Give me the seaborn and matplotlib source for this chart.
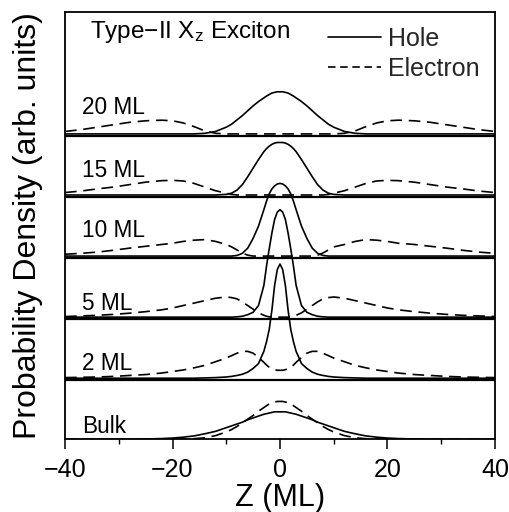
"""
Type-II X_z exciton: hole / electron probability density for several layer widths.
Stacked curves, one baseline per width, shared Z axis.
"""
import numpy as np
import pandas as pd
import matplotlib
matplotlib.use("Agg")
import matplotlib.pyplot as plt
import matplotlib.transforms as mtransforms
from matplotlib.lines import Line2D
import seaborn as sns

# --- data (Z in monolayers, density in arb. units) ---
z_ml = [-40, -37, -34, -31, -28, -25, -22, -20, -18, -16, -14, -12, -10, -9, -8, -7, -6, -5, -4, -3,
        -2.5, -2, -1.5, -1, -0.5, 0, 0.5, 1, 1.5, 2, 2.5, 3, 4, 5, 6, 7, 8, 9, 10, 12, 14, 16, 18,
        20, 22, 25, 28, 31, 34, 37, 40]

labels = ["Bulk", "2 ML", "5 ML", "10 ML", "15 ML", "20 ML"]

hole_bulk = [0, 0, 0, 0, 0, 0.005, 0.012, 0.02, 0.035, 0.055, 0.09, 0.13, 0.19, 0.22, 0.25, 0.28, 0.32,
             0.35, 0.38, 0.41, 0.42, 0.43, 0.44, 0.45, 0.45, 0.45, 0.45, 0.45, 0.44, 0.43, 0.42, 0.41,
             0.38, 0.35, 0.32, 0.28, 0.25, 0.22, 0.19, 0.13, 0.09, 0.055, 0.035, 0.02, 0.012, 0.005,
             0, 0, 0, 0, 0]
elec_bulk = [0, 0, 0, 0, 0, 0, 0, 0, 0.003, 0.01, 0.025, 0.06, 0.12, 0.16, 0.21, 0.27, 0.33, 0.39,
             0.46, 0.52, 0.55, 0.58, 0.60, 0.61, 0.62, 0.62, 0.62, 0.61, 0.60, 0.58, 0.55, 0.52, 0.46,
             0.39, 0.33, 0.27, 0.21, 0.16, 0.12, 0.06, 0.025, 0.01, 0.003, 0, 0, 0, 0, 0, 0, 0, 0]

hole_2 = [0, 0, 0, 0, 0, 0, 0, 0, 0, 0, 0.005, 0.01, 0.02, 0.03, 0.045, 0.065, 0.10, 0.16, 0.24, 0.44,
          0.60, 0.80, 1.12, 1.52, 1.78, 1.87, 1.78, 1.52, 1.12, 0.80, 0.60, 0.44, 0.24, 0.16, 0.10,
          0.065, 0.045, 0.03, 0.02, 0.01, 0.005, 0, 0, 0, 0, 0, 0, 0, 0, 0, 0]
elec_2 = [0.01, 0.015, 0.02, 0.03, 0.045, 0.06, 0.085, 0.11, 0.135, 0.17, 0.21, 0.27, 0.33, 0.37, 0.41,
          0.44, 0.44, 0.41, 0.34, 0.26, 0.215, 0.18, 0.155, 0.14, 0.13, 0.13, 0.13, 0.14, 0.155, 0.18,
          0.215, 0.26, 0.34, 0.41, 0.44, 0.44, 0.41, 0.37, 0.33, 0.27, 0.21, 0.17, 0.135, 0.11, 0.085,
          0.06, 0.045, 0.03, 0.02, 0.015, 0.01]

hole_5 = [0, 0, 0, 0, 0, 0, 0, 0, 0, 0, 0, 0, 0, 0, 0.005, 0.015, 0.04, 0.08, 0.19, 0.52, 0.84, 1.12,
          1.38, 1.60, 1.72, 1.76, 1.72, 1.60, 1.38, 1.12, 0.84, 0.52, 0.19, 0.08, 0.04, 0.015, 0.005,
          0, 0, 0, 0, 0, 0, 0, 0, 0, 0, 0, 0, 0, 0]
elec_5 = [0.01, 0.02, 0.03, 0.045, 0.065, 0.09, 0.12, 0.15, 0.19, 0.23, 0.27, 0.31, 0.33, 0.32, 0.30,
          0.25, 0.19, 0.13, 0.07, 0.03, 0.015, 0.005, 0, 0, 0, 0, 0, 0, 0, 0.005, 0.015, 0.03, 0.07,
          0.13, 0.19, 0.25, 0.30, 0.32, 0.33, 0.31, 0.27, 0.23, 0.19, 0.15, 0.12, 0.09, 0.065, 0.045,
          0.03, 0.02, 0.01]

hole_10 = [0, 0, 0, 0, 0, 0, 0, 0, 0, 0, 0, 0, 0, 0, 0.01, 0.045, 0.13, 0.29, 0.49, 0.76, 0.90, 1.02,
           1.10, 1.15, 1.18, 1.19, 1.18, 1.15, 1.10, 1.02, 0.90, 0.76, 0.49, 0.29, 0.13, 0.045, 0.01,
           0, 0, 0, 0, 0, 0, 0, 0, 0, 0, 0, 0, 0, 0]
elec_10 = [0.03, 0.045, 0.065, 0.095, 0.13, 0.16, 0.19, 0.21, 0.24, 0.26, 0.27, 0.24, 0.19, 0.15, 0.10,
           0.05, 0.015, 0, 0, 0, 0, 0, 0, 0, 0, 0, 0, 0, 0, 0, 0, 0, 0, 0, 0, 0.015, 0.05, 0.10, 0.15,
           0.19, 0.24, 0.27, 0.26, 0.24, 0.21, 0.19, 0.16, 0.13, 0.095, 0.065, 0.045, 0.03]

hole_15 = [0, 0, 0, 0, 0, 0, 0, 0, 0, 0, 0, 0, 0.01, 0.03, 0.08, 0.17, 0.30, 0.44, 0.58, 0.71, 0.76,
           0.80, 0.83, 0.85, 0.86, 0.86, 0.86, 0.85, 0.83, 0.80, 0.76, 0.71, 0.58, 0.44, 0.30, 0.17,
           0.08, 0.03, 0.01, 0, 0, 0, 0, 0, 0, 0, 0, 0, 0, 0, 0]
elec_15 = [0.04, 0.065, 0.10, 0.13, 0.17, 0.21, 0.235, 0.24, 0.23, 0.19, 0.13, 0.07, 0.03, 0.01, 0, 0,
           0, 0, 0, 0, 0, 0, 0, 0, 0, 0, 0, 0, 0, 0, 0, 0, 0, 0, 0, 0, 0, 0.01, 0.03, 0.07, 0.13,
           0.19, 0.23, 0.24, 0.235, 0.21, 0.17, 0.13, 0.10, 0.065, 0.04]

hole_20 = [0, 0, 0, 0, 0, 0, 0, 0, 0, 0, 0.01, 0.04, 0.11, 0.16, 0.23, 0.30, 0.38, 0.46, 0.53, 0.59,
           0.62, 0.645, 0.67, 0.68, 0.69, 0.69, 0.69, 0.68, 0.67, 0.645, 0.62, 0.59, 0.53, 0.46, 0.38,
           0.30, 0.23, 0.16, 0.11, 0.04, 0.01, 0, 0, 0, 0, 0, 0, 0, 0, 0, 0]
elec_20 = [0.04, 0.07, 0.11, 0.15, 0.19, 0.215, 0.225, 0.215, 0.18, 0.12, 0.05, 0.01, 0, 0, 0, 0, 0,
           0, 0, 0, 0, 0, 0, 0, 0, 0, 0, 0, 0, 0, 0, 0, 0, 0, 0, 0, 0, 0, 0, 0.01, 0.05, 0.12, 0.18,
           0.215, 0.225, 0.215, 0.19, 0.15, 0.11, 0.07, 0.04]

holes = [hole_bulk, hole_2, hole_5, hole_10, hole_15, hole_20]
electrons = [elec_bulk, elec_2, elec_5, elec_10, elec_15, elec_20]

# --- layout ---
label_lift = [0.11, 0.13, 0.11, 0.31, 0.29, 0.33]   # label baseline above each trace
base_shift = 0.03                                   # separator drawn just under the zero line

sns.set_theme(style="ticks")
plt.rcParams["font.family"] = ["Liberation Sans", "DejaVu Sans"]
plt.rcParams["mathtext.default"] = "regular"
plt.rcParams["xtick.direction"] = "out"

rows = []
for k, name in enumerate(labels):
    for carrier, dens in (("Hole", holes[k]), ("Electron", electrons[k])):
        for z, d in zip(z_ml, dens):
            rows.append({"Z": z, "dens": d + k, "carrier": carrier, "trace": f"{name}-{carrier}"})
df = pd.DataFrame(rows)

fig = plt.figure(figsize=(5.10, 5.12), dpi=100)
ax = fig.add_axes([0.1275, 0.142, 0.843, 0.835])

sns.lineplot(data=df, x="Z", y="dens", style="carrier", units="trace", estimator=None,
             sort=False, color="black", linewidth=1.2,
             dashes={"Hole": "", "Electron": (7, 4)}, legend=False, ax=ax)

# separator under each stacked trace
for k in range(1, len(labels)):
    ax.axhline(k - base_shift, color="black", linewidth=1.6, zorder=1)

ax.set_xlim(-40, 40)
ax.set_ylim(0, 7)
ax.set_xticks([-40, -20, 0, 20, 40])
ax.set_xticks([-30, -10, 10, 30], minor=True)
ax.xaxis.set_tick_params(which="major", direction="out", length=7.5, width=1.1,
                         pad=6, labelsize=18, color="black", labelcolor="black")
ax.xaxis.set_tick_params(which="minor", direction="out", length=3.5, width=1.0, color="black")
ax.tick_params(axis="y", which="both", left=False, right=False, labelleft=False)
for sp in ax.spines.values():
    sp.set_visible(True)
    sp.set_color("black")
    sp.set_linewidth(1.3)

ax.set_xlabel("Z (ML)", fontsize=22, labelpad=1, color="black")
ax.set_ylabel("Probability Density (arb. units)", fontsize=23, labelpad=16, color="black")

blend = mtransforms.blended_transform_factory(ax.transAxes, ax.transData)
for k, name in enumerate(labels):
    ax.text(0.039, k + label_lift[k], name, transform=blend, fontsize=16.3,
            ha="left", va="baseline", color="black")

ax.text(0.058, 0.939, "Type\u2212II X$_{z}$ Exciton", transform=ax.transAxes,
        fontsize=17.5, ha="left", va="baseline", color="black")

handles = [Line2D([], [], color="black", linewidth=1.2),
           Line2D([], [], color="black", linewidth=1.2, dashes=(4.5, 2.8))]
ax.legend(handles, ["Hole", "Electron"], loc="upper right", bbox_to_anchor=(0.965, 0.965),
          frameon=False, fontsize=18, handlelength=2.1, handletextpad=0.3,
          labelspacing=0.25, borderpad=0, borderaxespad=0)

fig.savefig("out.png", dpi=100)
